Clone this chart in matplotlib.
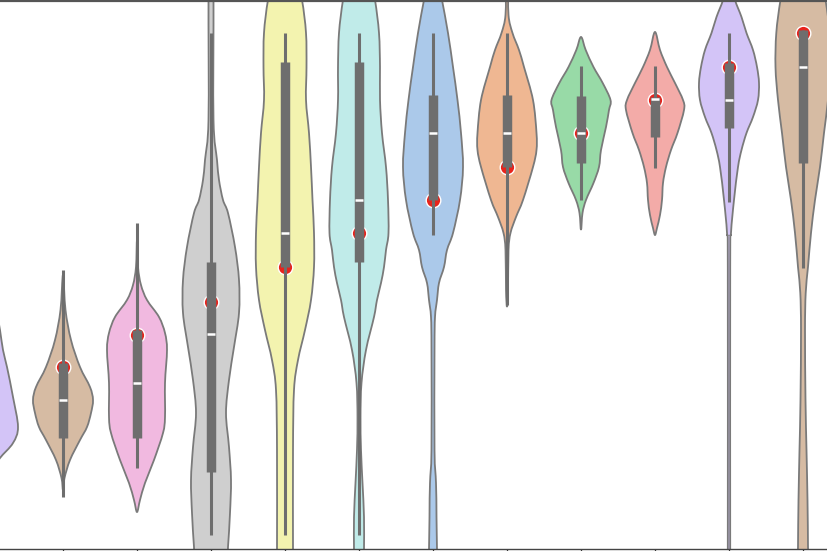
import colorsys
import numpy as np
import matplotlib
matplotlib.use("Agg")
import matplotlib.pyplot as plt
import matplotlib.colors as mcolors
from matplotlib.path import Path
from matplotlib.patches import PathPatch

# ---------------- data ----------------
positions = [0, 1, 2, 3, 4, 5, 6, 7, 8, 9, 10, 11]
colors_hex = ['#d0bbff', '#debb9b', '#fab0e4', '#cfcfcf', '#fffea3', '#b9f2f0',
              '#a1c9f4', '#ffb482', '#8de5a1', '#ff9f9b', '#d0bbff', '#debb9b']

# density profile of each violin: value levels and half-width (density)
coords = [
    [64, 79, 91, 106, 122, 152, 182, 199, 219, 249, 289],
    [59, 71, 89, 109, 122, 136, 149, 162, 182, 209, 239, 274],
    [37, 49, 66, 89, 116, 132, 166, 199, 216, 232, 249, 264, 282, 309],
    [-21, 2, 36, 69, 102, 136, 169, 202, 236, 269, 302, 336, 349, 369, 389, 429, 549, 569],
    [-21, 0, 99, 159, 189, 219, 249, 282, 316, 349, 382, 416, 449, 482, 516, 549, 579],
    [-21, -1, 32, 66, 99, 132, 166, 199, 232, 249, 266, 282, 299, 316, 349, 382, 416, 449, 482, 516, 549, 579],
    [-21, 32, 66, 99, 199, 232, 249, 266, 282, 299, 316, 349, 382, 416, 449, 482, 516, 549, 569, 589],
    [242, 259, 299, 316, 332, 349, 382, 399, 416, 449, 482, 499, 516, 534, 569],
    [319, 336, 349, 366, 382, 399, 422, 439, 449, 466, 482, 499, 512],
    [314, 321, 334, 349, 366, 382, 399, 416, 439, 449, 466, 482, 499, 517],
    [-21, 0, 282, 316, 349, 382, 399, 416, 432, 449, 466, 482, 499, 516, 532, 549, 564, 579],
    [-21, 2, 49, 99, 149, 219, 256, 282, 316, 349, 382, 416, 449, 482, 516, 549, 589],
]
density = [
    [0.5, 4, 11, 24, 29, 24, 18, 14, 11, 6, 1],
    [0, 1.5, 7, 17, 24, 28, 30, 27, 17, 8, 2.5, 0],
    [0, 3, 8, 17, 26, 28, 28, 30, 28, 22, 10, 4, 1, 0],
    [15, 17, 19, 20, 18, 15, 18, 23, 28, 28, 24, 17, 12, 8, 6, 2.5, 2.5, 1.5],
    [8, 8, 8, 9, 13, 20, 26, 29, 29, 27.5, 26, 24, 21, 21.5, 21, 17, 10],
    [5, 5, 5, 3.5, 2, 1.5, 2.5, 7, 15, 18, 22, 25, 27, 29.5, 29, 27, 23, 21, 21, 20, 16, 10],
    [3.5, 3.5, 3, 1.5, 1.5, 2, 4, 6, 11, 14, 20, 27, 30, 28, 24.5, 20, 15, 9, 5, 1],
    [0, 1, 1.5, 3.5, 9, 16, 26, 29.5, 29.5, 26, 17, 12, 5.5, 1.5, 1],
    [0, 1.5, 5, 12.5, 18, 20, 25, 28, 29.5, 21.7, 12.5, 4.7, 0],
    [0, 2, 5, 7, 8, 11, 16, 22.5, 29, 28, 20, 12, 5, 0],
    [1.2, 1.2, 1.2, 2, 5, 9, 12.5, 17.5, 24, 29, 30, 28, 24, 17.5, 12.5, 6, 3, 1],
    [5, 5, 4.5, 3.5, 2.5, 2, 2.7, 5, 8, 12, 17, 21, 25, 27.5, 26.7, 22.5, 15],
]
box_low = [109, 111, 111, 77, 282, 287, 349, 382, 386, 412, 421, 386]
box_high = [179, 186, 219, 287, 487, 487, 454, 454, 453, 452, 486, 519]
medians = [139, 149, 166, 215, 316, 349, 416, 416, 416, 450, 449, 482]
whisk_low = [69, 52, 81, 14, 14, 14, 314, 244, 349, 381, 347, 281]
whisk_high = [269, 279, 326, 516, 516, 516, 516, 516, 483, 483, 516, 519]
highlight = [149, 182, 214, 247, 282, 316, 349, 382, 416, 449, 482, 516]

# ---------------- figure ----------------
W, H = 828, 551
fig = plt.figure(figsize=(W / 100, H / 100), dpi=100)
ax = fig.add_axes([0, 2 / H, 1, 548 / H])

px_per_unit = 74.0   # horizontal scale: 74 px between categories
dens_scale = 1.0 / px_per_unit


def desat(c, prop=0.75):
    r, g, b = mcolors.to_rgb(c)
    h, l, s = colorsys.rgb_to_hls(r, g, b)
    return colorsys.hls_to_rgb(h, l, s * prop)


def smooth_violin_path(pos, cs, ds):
    cs = np.asarray(cs, float)
    ds = np.asarray(ds, float) * dens_scale
    right = [(pos + d, c) for c, d in zip(cs, ds)]
    left = [(pos - d, c) for c, d in zip(cs[::-1], ds[::-1])]
    if ds[-1] == 0:
        left = left[1:]
    if ds[0] == 0:
        left = left[:-1]
    pts = np.array(right + left)
    n = len(pts)
    verts = [pts[0]]
    codes = [Path.MOVETO]
    for i in range(n):
        p0 = pts[(i - 1) % n]
        p1 = pts[i]
        p2 = pts[(i + 1) % n]
        p3 = pts[(i + 2) % n]
        c1 = p1 + (p2 - p0) / 6.0
        c2 = p2 - (p3 - p1) / 6.0
        verts += [c1, c2, p2]
        codes += [Path.CURVE4] * 3
    verts.append(pts[0])
    codes.append(Path.CLOSEPOLY)
    return Path(np.array(verts), codes)


for i, pos in enumerate(positions):
    patch = PathPatch(smooth_violin_path(pos, coords[i], density[i]),
                      facecolor=desat(colors_hex[i]), edgecolor='#7a7a7a',
                      lw=1.3, zorder=2)
    ax.add_patch(patch)

box_col = '#6e6e6e'
ax.plot(positions, highlight, 'o', ms=10.5, mfc='#e8231c', mec='white',
        mew=1.0, ls='none', zorder=3)
ax.vlines(positions, whisk_low, whisk_high, color=box_col, lw=2.2, zorder=4)
ax.vlines(positions, box_low, box_high, color=box_col, lw=6.8, zorder=5)
ax.plot(positions, medians, ls='none', marker='_', ms=5.5, mew=1.8,
        color='white', zorder=6)

for s in ['left', 'right']:
    ax.spines[s].set_visible(False)
ax.spines['top'].set_color('#555555')
ax.spines['top'].set_linewidth(1.6)
ax.spines['bottom'].set_color('#444444')
ax.spines['bottom'].set_linewidth(1.0)
ax.set_xticks(positions)
ax.set_xticklabels([])
ax.set_yticks([])
ax.tick_params(axis='x', length=3.5, width=0.9, color='#333333')

# category 0 sits 11 px left of the figure edge
ax.set_xlim(11.0 / px_per_unit, 11.0 / px_per_unit + W / px_per_unit)
ax.set_ylim(0, 548)

fig.savefig('out.png', dpi=100)
